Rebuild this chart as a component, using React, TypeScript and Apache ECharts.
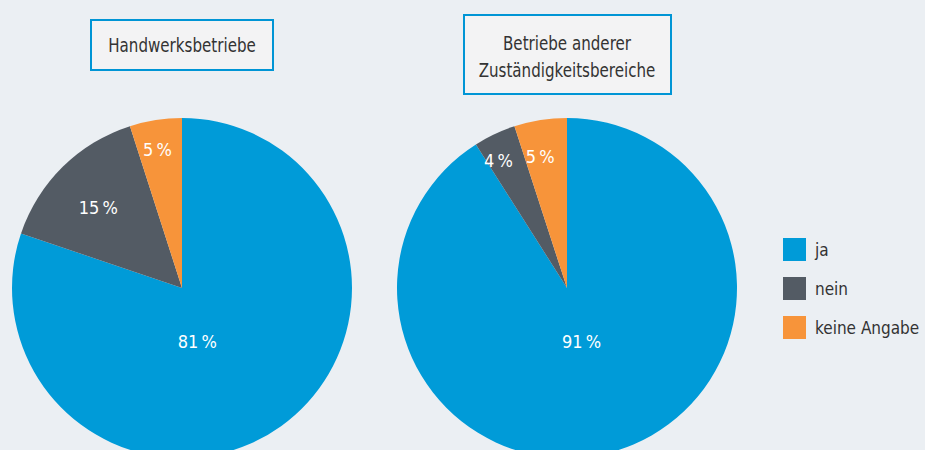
import React, { useEffect, useRef } from "react";
import * as echarts from "echarts";

const categories = ["ja", "nein", "keine Angabe"];
const handwerkValues = [81, 15, 5];
const andereValues = [91, 4, 5];
const titles = ["Handwerksbetriebe", "Betriebe anderer\nZuständigkeitsbereiche"];
const colors = ["#009bd8", "#535b64", "#f7943a"];

const FONT = "'DejaVu Sans Condensed', 'Roboto', sans-serif";

// label offsets (style) relative to default inside position
const leftOffsets = [[-36, -18], [-22, -18], [-11, -52]];
const rightOffsets = [[-10, -31], [-31, -48], [-13, -45]];

export default function App() {
  const ref = useRef<HTMLDivElement>(null);
  useEffect(() => {
    document.body.style.margin = "0";
    const chart = echarts.init(ref.current!, null, { renderer: "svg" });
    const mkSeries = (values: number[], cx: number, offsets: number[][]) => ({
      type: "pie",
      center: [cx, 288],
      radius: 170,
      startAngle: 90,
      clockwise: true,
      silent: true,
      avoidLabelOverlap: false,
      label: {
        show: true,
        position: "inside",
        color: "#ffffff",
        fontSize: 18,
        fontFamily: FONT,
        formatter: (p: any) => `${p.value}\u2009%`,
      },
      labelLine: { show: false },
      labelLayout: (p: any) => ({ dx: offsets[p.dataIndex][0], dy: offsets[p.dataIndex][1] }),
      itemStyle: { borderWidth: 0 },
      data: categories.map((c, i) => ({ name: c, value: values[i], itemStyle: { color: colors[i] } })),
    });
    const titleText = (text: string, x: number, y: number) => ({
      type: "text",
      x,
      y,
      scaleX: 0.84,
      style: {
        text,
        fill: "#333333",
        fontSize: 20,
        lineHeight: 27,
        fontFamily: FONT,
        align: "center",
        verticalAlign: "middle",
      },
    });
    chart.setOption({
      animation: false,
      backgroundColor: "#ebeff3",
      legend: {
        orient: "vertical",
        left: 783,
        top: 238,
        padding: 0,
        itemWidth: 23,
        itemHeight: 23,
        itemGap: 16,
        icon: "rect",
        selectedMode: false,
        textStyle: { color: "#333333", fontSize: 17, fontFamily: FONT, padding: [0, 0, 0, 4] },
        data: categories,
      },
      graphic: [
        {
          type: "rect",
          shape: { x: 91, y: 20, width: 182, height: 50 },
          style: { fill: "#f3f3f4", stroke: "#0095d5", lineWidth: 2 },
        },
        titleText(titles[0], 182, 45),
        {
          type: "rect",
          shape: { x: 464, y: 15, width: 207, height: 79 },
          style: { fill: "#f3f3f4", stroke: "#0095d5", lineWidth: 2 },
        },
        titleText(titles[1], 567, 56),
      ],
      series: [mkSeries(handwerkValues, 182, leftOffsets), mkSeries(andereValues, 567, rightOffsets)],
    });
    return () => chart.dispose();
  }, []);
  return <div ref={ref} style={{ width: 925, height: 450 }} />;
}
